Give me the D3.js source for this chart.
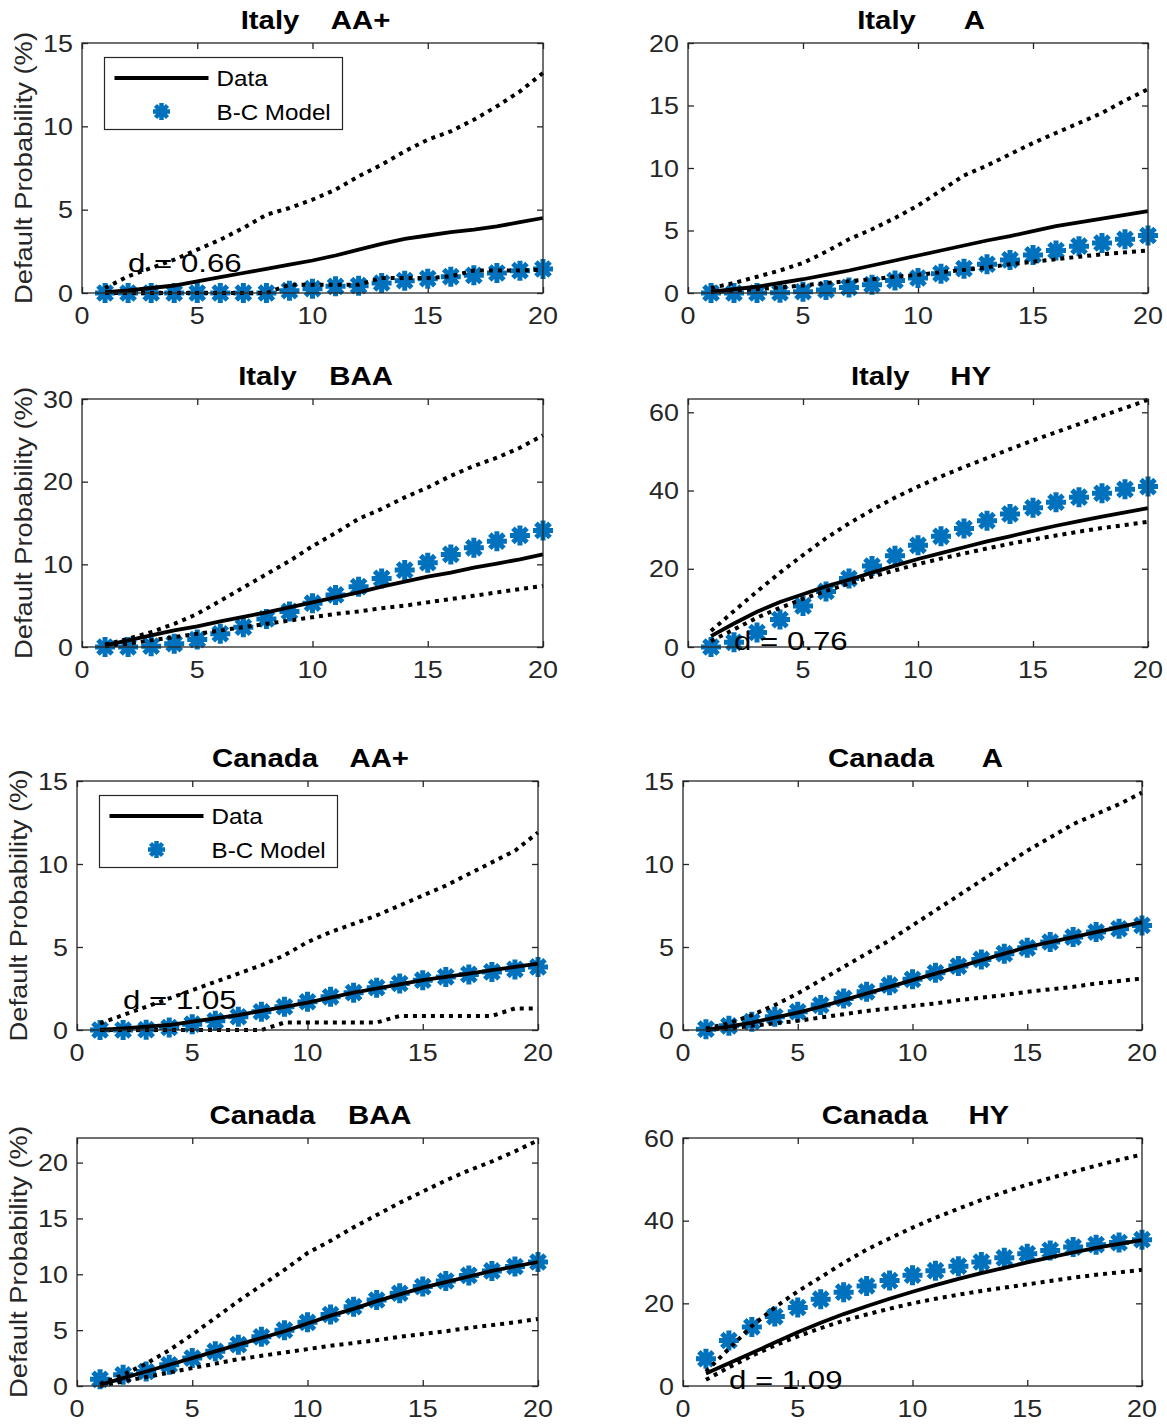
<!DOCTYPE html>
<html>
<head>
<meta charset="utf-8">
<script src="https://cdn.jsdelivr.net/npm/d3@7"></script>
<style>
  html, body { margin: 0; padding: 0; background: #fff; }
  svg text { font-family: "Liberation Sans", Arial, Helvetica, sans-serif; white-space: pre; }
</style>
</head>
<body>
<svg id="chart" width="1167" height="1425"></svg>
<script>
// ---------------- DATA ----------------
const horizons = [1,2,3,4,5,6,7,8,9,10,11,12,13,14,15,16,17,18,19,20];
const xTicks = [0,5,10,15,20];

// Italy AA+
const itAA_data  = [0.05,0.15,0.3,0.45,0.7,0.95,1.2,1.45,1.7,1.95,2.25,2.6,2.95,3.25,3.45,3.65,3.8,4.0,4.25,4.5];
const itAA_model = [0,0,0,0,0,0,0,0,0.14,0.26,0.4,0.44,0.6,0.74,0.86,0.98,1.06,1.2,1.34,1.44];
const itAA_upper = [0.3,1.0,1.5,2.0,2.6,3.2,3.9,4.7,5.1,5.6,6.2,7.0,7.7,8.5,9.2,9.7,10.4,11.2,12.1,13.2];
const itAA_lower = [0,0,0,0,0,0,0,0,0.5,0.5,0.5,0.5,0.9,0.9,0.9,1.0,1.35,1.35,1.35,1.4];

// Italy A
const itA_data  = [0.1,0.3,0.5,0.8,1.1,1.45,1.8,2.2,2.6,3.0,3.4,3.8,4.2,4.55,4.95,5.35,5.65,5.95,6.25,6.55];
const itA_model = [0,0,0,0.02,0.1,0.25,0.45,0.67,1.0,1.2,1.55,1.95,2.3,2.65,3.05,3.4,3.75,4.0,4.3,4.6];
const itA_upper = [0.4,0.8,1.3,1.8,2.4,3.3,4.3,5.1,6.0,7.0,8.2,9.4,10.2,11.1,12.0,12.8,13.6,14.4,15.4,16.3];
const itA_lower = [0.05,0.2,0.3,0.45,0.6,0.8,0.95,1.1,1.3,1.45,1.65,1.85,2.05,2.3,2.5,2.7,2.9,3.1,3.25,3.4];

// Italy BAA
const itBAA_data  = [0.2,0.8,1.4,2.0,2.5,3.1,3.65,4.2,4.8,5.4,6.0,6.6,7.3,7.9,8.5,9.0,9.6,10.1,10.6,11.2];
const itBAA_model = [0,0,0.1,0.4,0.9,1.6,2.4,3.4,4.3,5.3,6.3,7.3,8.3,9.3,10.2,11.2,12.0,12.8,13.5,14.1];
const itBAA_upper = [0.3,1.0,1.8,2.8,4.0,5.6,7.2,8.8,10.4,12.2,13.8,15.5,16.7,18.1,19.3,20.7,21.9,22.9,24.1,25.6];
const itBAA_lower = [0.1,0.4,0.8,1.2,1.6,2.0,2.4,2.8,3.2,3.6,4.0,4.3,4.7,5.0,5.4,5.8,6.2,6.6,7.0,7.4];

// Italy HY
const itHY_data  = [2.8,6.0,9.0,11.5,13.5,15.5,17.2,19.0,20.8,22.5,24.0,25.5,27.0,28.3,29.7,31.0,32.2,33.3,34.4,35.5];
const itHY_model = [0,1.2,3.7,7.0,10.5,14.2,17.5,20.7,23.3,26.0,28.3,30.3,32.3,34.0,35.6,37.0,38.3,39.3,40.3,41.0];
const itHY_upper = [4.1,9.2,14.2,19.0,23.5,27.8,31.6,35.0,38.2,41.0,43.6,46.0,48.3,50.6,52.8,54.9,57.0,59.1,61.1,63.2];
const itHY_lower = [1.5,4.5,7.5,10.0,12.3,14.3,16.2,18.0,19.6,21.2,22.6,23.9,25.2,26.4,27.5,28.5,29.5,30.4,31.2,32.0];

// Canada AA+
const caAA_data  = [0,0.1,0.2,0.3,0.5,0.7,0.9,1.15,1.4,1.65,1.95,2.25,2.5,2.75,3.0,3.2,3.4,3.6,3.8,4.0];
const caAA_model = [0,0,0.02,0.15,0.35,0.55,0.8,1.1,1.4,1.7,2.0,2.25,2.55,2.8,3.0,3.2,3.35,3.5,3.65,3.8];
const caAA_upper = [0.4,0.9,1.4,1.9,2.4,2.9,3.4,3.9,4.5,5.3,5.9,6.4,6.9,7.5,8.1,8.7,9.4,10.1,10.8,11.9];
const caAA_lower = [0,0,0,0,0,0,0,0,0.45,0.45,0.45,0.45,0.45,0.85,0.85,0.85,0.85,0.85,1.3,1.3];

// Canada A
const caA_data  = [0,0.2,0.45,0.75,1.05,1.4,1.8,2.2,2.6,3.0,3.4,3.8,4.2,4.6,5.0,5.3,5.6,5.9,6.2,6.5];
const caA_model = [0.05,0.25,0.5,0.8,1.1,1.5,1.9,2.3,2.7,3.05,3.45,3.85,4.25,4.6,4.95,5.3,5.6,5.9,6.1,6.3];
const caA_upper = [0.1,0.4,0.9,1.5,2.2,3.0,3.8,4.6,5.4,6.3,7.2,8.1,9.0,9.9,10.8,11.6,12.4,13.0,13.6,14.3];
const caA_lower = [0,0.1,0.25,0.4,0.55,0.75,0.95,1.15,1.3,1.45,1.6,1.8,1.95,2.1,2.3,2.45,2.6,2.8,2.95,3.1];

// Canada BAA
const caBAA_data  = [0.1,0.7,1.3,1.9,2.5,3.1,3.7,4.3,4.9,5.6,6.3,6.9,7.6,8.2,8.8,9.3,9.8,10.3,10.7,11.1];
const caBAA_model = [0.6,1.0,1.3,1.9,2.5,3.1,3.7,4.4,5.0,5.7,6.4,7.1,7.7,8.3,8.9,9.4,9.9,10.3,10.7,11.1];
const caBAA_upper = [0.2,1.0,2.0,3.2,4.6,6.1,7.6,9.0,10.4,11.9,13.0,14.2,15.3,16.4,17.4,18.4,19.3,20.1,21.0,22.0];
const caBAA_lower = [0,0.4,0.8,1.2,1.6,2.0,2.4,2.7,3.0,3.3,3.6,3.85,4.1,4.4,4.65,4.9,5.2,5.45,5.7,6.0];

// Canada HY
const caHY_data  = [3.0,5.5,8.0,10.5,13.0,15.3,17.4,19.3,21.1,22.8,24.4,25.9,27.3,28.6,29.9,31.1,32.3,33.4,34.4,35.3];
const caHY_model = [6.6,11.0,14.3,16.8,19.0,21.0,22.7,24.2,25.5,26.8,27.9,29.0,30.0,31.0,32.0,32.8,33.6,34.2,34.7,35.4];
const caHY_upper = [3.5,9.0,14.5,19.0,22.9,26.3,29.8,33.0,35.7,38.3,40.7,42.9,45.0,46.9,48.7,50.3,51.8,53.3,54.7,56.0];
const caHY_lower = [1.5,4.5,7.3,9.8,12.0,14.0,15.8,17.3,18.7,20.0,21.1,22.1,23.0,23.8,24.6,25.4,26.2,26.9,27.5,28.1];

const titles = ["Italy    AA+", "Italy      A", "Italy    BAA", "Italy     HY",
                "Canada    AA+", "Canada      A", "Canada    BAA", "Canada     HY"];
const yMaxes = [15, 20, 30, 63.4, 15, 15, 22.2, 60];
const yTickLists = [[0,5,10,15],[0,5,10,15,20],[0,10,20,30],[0,20,40,60],
                    [0,5,10,15],[0,5,10,15],[0,5,10,15,20],[0,20,40,60]];
const annotations = [
  {panel:0, x:2, y:1.83, text:"d = 0.66"},
  {panel:3, x:2, y:1.5, text:"d = 0.76"},
  {panel:4, x:2, y:1.8, text:"d = 1.05"},
  {panel:7, x:2, y:1.45, text:"d = 1.09"}
];
const legendLabels = ["Data", "B-C Model"];
const yLabel = "Default Probability (%)";

const panelSeries = [
  [itAA_data, itAA_model, itAA_upper, itAA_lower],
  [itA_data, itA_model, itA_upper, itA_lower],
  [itBAA_data, itBAA_model, itBAA_upper, itBAA_lower],
  [itHY_data, itHY_model, itHY_upper, itHY_lower],
  [caAA_data, caAA_model, caAA_upper, caAA_lower],
  [caA_data, caA_model, caA_upper, caA_lower],
  [caBAA_data, caBAA_model, caBAA_upper, caBAA_lower],
  [caHY_data, caHY_model, caHY_upper, caHY_lower]
];

// ---------------- LAYOUT ----------------
const boxes = [
  {l:82, r:543, t:43, b:293},
  {l:688, r:1148, t:43, b:293},
  {l:82, r:543, t:399, b:647},
  {l:688, r:1148, t:399, b:647},
  {l:77, r:538, t:781, b:1030},
  {l:683, r:1142, t:781, b:1030},
  {l:77, r:538, t:1138, b:1386},
  {l:683, r:1142, t:1138, b:1386}
];
const AX = "#262626";
const BLUE = "#0072BD";
const svg = d3.select("#chart");

function addText(g, x, y, str, o) {
  o = o || {};
  const sx = o.sx || 1;
  const rot = o.rotate || 0;
  return g.append("text")
    .attr("transform", `translate(${x},${y}) rotate(${rot}) scale(${sx},1)`)
    .attr("text-anchor", o.anchor || "start")
    .attr("font-size", o.size || 24)
    .attr("font-weight", o.weight || "normal")
    .attr("fill", o.fill || AX)
    .text(str);
}

function starPath(r) {
  const d = r * Math.SQRT1_2;
  return `M${-r},0L${r},0M0,${-r}L0,${r}M${-d},${-d}L${d},${d}M${-d},${d}L${d},${-d}`;
}

function drawStar(g, cx, cy, r, w) {
  const s = g.append("g").attr("transform", `translate(${cx},${cy})`);
  s.append("circle").attr("r", r * 0.55).attr("fill", BLUE);
  s.append("path").attr("d", starPath(r))
    .attr("stroke", BLUE).attr("stroke-width", w).attr("fill", "none");
}

boxes.forEach((bx, i) => {
  const g = svg.append("g");
  const x = d3.scaleLinear().domain([0, 20]).range([bx.l, bx.r]);
  const y = d3.scaleLinear().domain([0, yMaxes[i]]).range([bx.b, bx.t]);
  const [dData, dModel, dUp, dLo] = panelSeries[i];

  g.append("rect").attr("x", bx.l).attr("y", bx.t)
    .attr("width", bx.r - bx.l).attr("height", bx.b - bx.t)
    .attr("fill", "#fff");

  // inward ticks on all four sides
  const tl = 6;
  const bottom = g.append("g").attr("transform", `translate(0,${bx.b})`)
    .call(d3.axisBottom(x).tickValues(xTicks).tickSizeInner(-tl).tickSizeOuter(0).tickFormat(""));
  const top = g.append("g").attr("transform", `translate(0,${bx.t})`)
    .call(d3.axisTop(x).tickValues(xTicks).tickSizeInner(-tl).tickSizeOuter(0).tickFormat(""));
  const left = g.append("g").attr("transform", `translate(${bx.l},0)`)
    .call(d3.axisLeft(y).tickValues(yTickLists[i]).tickSizeInner(-tl).tickSizeOuter(0).tickFormat(""));
  const right = g.append("g").attr("transform", `translate(${bx.r},0)`)
    .call(d3.axisRight(y).tickValues(yTickLists[i]).tickSizeInner(-tl).tickSizeOuter(0).tickFormat(""));
  [bottom, top, left, right].forEach(a => {
    a.select(".domain").remove();
    a.selectAll(".tick line").attr("stroke", AX).attr("stroke-width", 1.3);
  });

  // tick labels
  xTicks.forEach(v => addText(g, x(v), bx.b + 31, String(v), {size: 24, anchor: "middle", sx: 1.12}));
  yTickLists[i].forEach(v => addText(g, bx.l - 9, y(v) + 8.6, String(v), {size: 24, anchor: "end", sx: 1.12}));

  // model markers (drawn under the lines)
  const mg = g.append("g");
  dModel.forEach((d, j) => drawStar(mg, x(horizons[j]), y(d), 10, 5));

  // lines
  const line = d3.line().x((d, j) => x(horizons[j])).y(d => y(d));
  g.append("path").datum(dData).attr("d", line)
    .attr("fill", "none").attr("stroke", "#000").attr("stroke-width", 3.8);
  [dUp, dLo].forEach(s => {
    g.append("path").datum(s).attr("d", line)
      .attr("fill", "none").attr("stroke", "#000").attr("stroke-width", 4)
      .attr("stroke-dasharray", "4,5");
  });

  // frame
  g.append("rect").attr("x", bx.l).attr("y", bx.t)
    .attr("width", bx.r - bx.l).attr("height", bx.b - bx.t)
    .attr("fill", "none").attr("stroke", AX).attr("stroke-width", 1.3);

  // title
  addText(g, (bx.l + bx.r) / 2 + 3, bx.t - 14, titles[i], {size: 25.5, weight: "bold", anchor: "middle", fill: "#000", sx: 1.15});

  // y label on left column
  if (i % 2 === 0) {
    addText(g, bx.l - 50, (bx.t + bx.b) / 2, yLabel, {size: 24, anchor: "middle", rotate: -90, sx: 1.14});
  }

  // annotation
  annotations.filter(a => a.panel === i).forEach(a => {
    addText(g, x(a.x), y(a.y) + 9, a.text, {size: 26, fill: "#000", sx: 1.2});
  });

  // legend
  if (i === 0 || i === 4) {
    const lx = bx.l + 22.5, ly = bx.t + 14.5, lw = 238, lh = 72;
    const lg = g.append("g");
    lg.append("rect").attr("x", lx).attr("y", ly).attr("width", lw).attr("height", lh)
      .attr("fill", "#fff").attr("stroke", AX).attr("stroke-width", 1.2);
    lg.append("line").attr("x1", lx + 10).attr("x2", lx + 104)
      .attr("y1", ly + 20.5).attr("y2", ly + 20.5)
      .attr("stroke", "#000").attr("stroke-width", 4);
    drawStar(lg, lx + 57, ly + 54, 8.5, 4.5);
    addText(lg, lx + 112, ly + 28.5, legendLabels[0], {size: 22, fill: "#000", sx: 1.1});
    addText(lg, lx + 112, ly + 62, legendLabels[1], {size: 22, fill: "#000", sx: 1.1});
  }
});
</script>
</body>
</html>
